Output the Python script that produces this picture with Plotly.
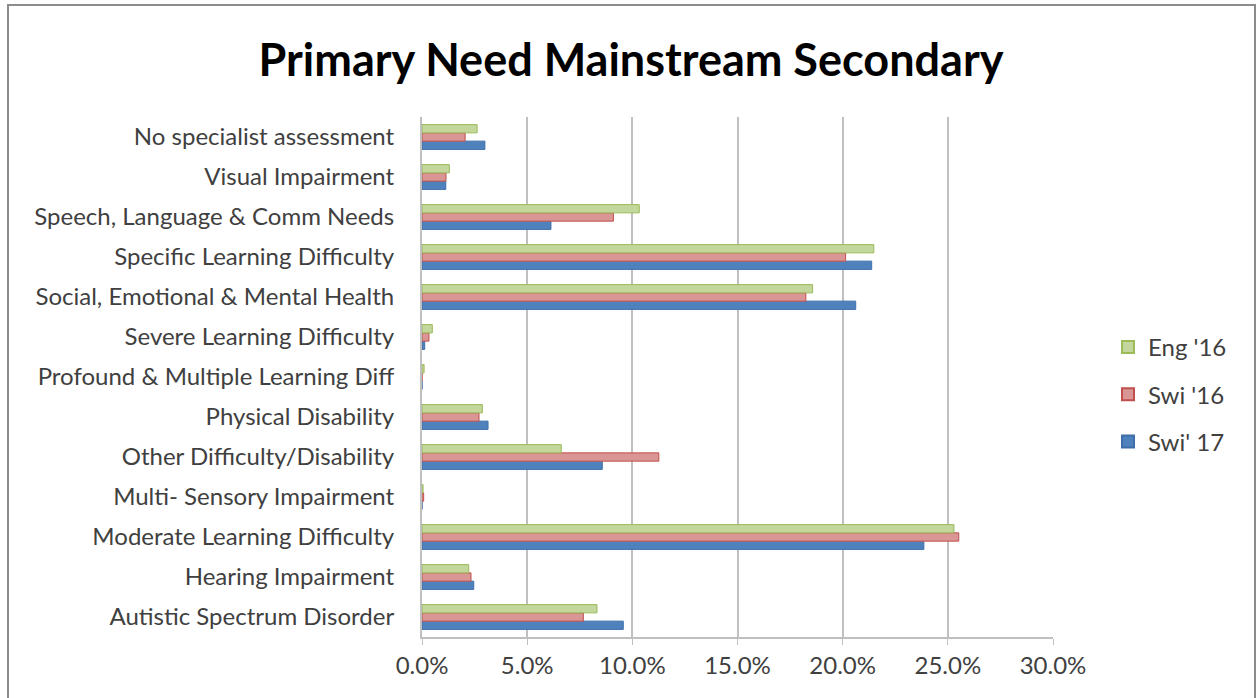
import plotly.graph_objects as go

# Categories listed bottom-to-top as they appear on the y axis
categories = [
    "Autistic Spectrum Disorder",
    "Hearing Impairment",
    "Moderate Learning Difficulty",
    "Multi- Sensory Impairment",
    "Other Difficulty/Disability",
    "Physical Disability",
    "Profound & Multiple Learning Diff",
    "Severe Learning Difficulty",
    "Social, Emotional & Mental Health",
    "Specific Learning Difficulty",
    "Speech, Language & Comm Needs",
    "Visual Impairment",
    "No specialist assessment",
]

# Shares of pupils (fractions)
eng_16 = [0.0832, 0.0222, 0.2529, 0.0005, 0.0662, 0.0287, 0.0010, 0.0049, 0.1857, 0.2148, 0.1033, 0.0130, 0.0262]
swi_16 = [0.0767, 0.0233, 0.2552, 0.0008, 0.1126, 0.0271, 0.0000, 0.0033, 0.1825, 0.2014, 0.0910, 0.0114, 0.0205]
swi_17 = [0.0957, 0.0246, 0.2386, 0.0000, 0.0857, 0.0314, 0.0000, 0.0013, 0.2062, 0.2138, 0.0613, 0.0113, 0.0299]

x_ticks = [0, 0.05, 0.10, 0.15, 0.20, 0.25, 0.30]

# (name, values, fill, outline, legend position)
series = [
    ("Swi' 17", swi_17, "#4F81BD", "#3F6FAB", 3),
    ("Swi '16", swi_16, "#D99694", "#C0504D", 2),
    ("Eng '16", eng_16, "#C3D69B", "#9BBB59", 1),
]

fig = go.Figure()
for name, vals, fill, edge, rank in series:
    fig.add_trace(go.Bar(
        y=categories, x=vals, name=name, orientation="h",
        legendgroup=name, legendrank=rank,
        marker=dict(color=fill, line=dict(color=edge, width=1)),
    ))

W, H = 1257, 698
L, R, T, B = 422, 1053, 117, 637
pw, ph = R - L, B - T


def px_x(p):
    return (p - L) / pw


def px_y(p):
    return (B - p) / ph


font_family = "Lato, Carlito, Calibri, sans-serif"
label_size = 24

fig.update_layout(
    width=W, height=H,
    margin=dict(l=L, r=W - R, t=T, b=H - B),
    paper_bgcolor="white", plot_bgcolor="white",
    barmode="group", bargap=0.38, bargroupgap=0,
    font=dict(family=font_family, size=label_size, color="#404040"),
    title=dict(
        text="<b>Primary Need Mainstream Secondary</b>",
        x=0.502, xanchor="center", y=1 - 60 / H, yanchor="middle",
        font=dict(family=font_family, size=45, color="black"),
    ),
    xaxis=dict(
        range=[0, 0.30], tickvals=x_ticks, tickformat=".1%",
        showgrid=True, gridcolor="#C0C0C0", gridwidth=2,
        showline=True, linecolor="#BFBFBF", linewidth=2,
        ticks="outside", ticklen=6, tickcolor="#BFBFBF",
        zeroline=False, fixedrange=True,
        tickfont=dict(size=label_size, color="#404040"),
    ),
    yaxis=dict(
        showline=True, linecolor="#BFBFBF", linewidth=2,
        ticks="", ticklabelstandoff=21,
        tickfont=dict(size=label_size, color="#404040"),
        fixedrange=True,
    ),
    legend=dict(
        traceorder="grouped",
        x=px_x(1108), xanchor="left", y=px_y(325), yanchor="top",
        font=dict(size=label_size, color="#404040"),
        itemsizing="constant", tracegroupgap=13,
        bgcolor="rgba(0,0,0,0)",
    ),
    shapes=[dict(
        type="rect", xref="paper", yref="paper",
        x0=px_x(8), x1=px_x(1255), y0=px_y(702), y1=px_y(5),
        line=dict(color="#8C8C8C", width=2), fillcolor="rgba(0,0,0,0)",
        layer="below",
    )],
)

fig.write_html("out.html")
